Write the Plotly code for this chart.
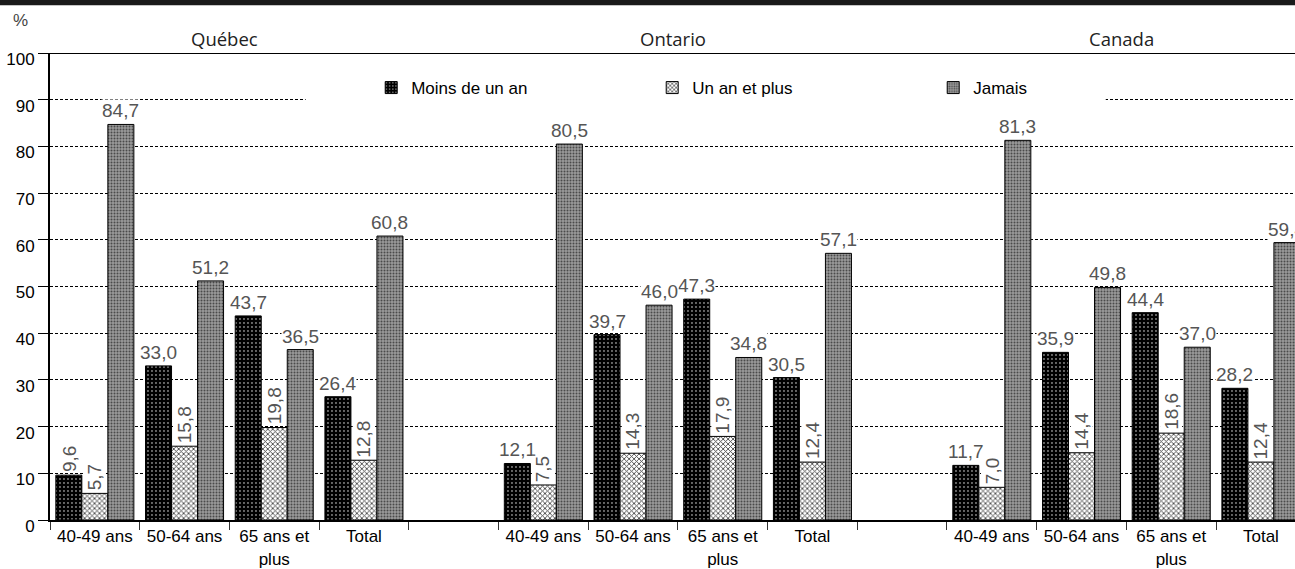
import plotly.graph_objects as go

# ---------------- data ----------------
regions = ["Québec", "Ontario", "Canada"]
age_groups = ["40-49 ans", "50-64 ans", "65 ans et<br>plus", "Total"]
series_names = ["Moins de un an", "Un an et plus", "Jamais"]
moins_de_un_an = [9.6, 33.0, 43.7, 26.4, 12.1, 39.7, 47.3, 30.5, 11.7, 35.9, 44.4, 28.2]
un_an_et_plus = [5.7, 15.8, 19.8, 12.8, 7.5, 14.3, 17.9, 12.4, 7.0, 14.4, 18.6, 12.4]
jamais = [84.7, 51.2, 36.5, 60.8, 80.5, 46.0, 34.8, 57.1, 81.3, 49.8, 37.0, 59.4]
y_ticks = list(range(0, 101, 10))
y_unit = "%"

series_values = [moins_de_un_an, un_an_et_plus, jamais]

# ---------------- categories (with empty slots between regions) ----------------
slots = []
for ri, r in enumerate(regions):
    if ri > 0:
        slots.append(f"gap{ri}")
    for a in age_groups:
        slots.append(f"{r}|{a}")
tick_text = ["" if s.startswith("gap") else s.split("|")[1] for s in slots]
x_data = [f"{r}|{a}" for r in regions for a in age_groups]

# ---------------- styles ----------------
TICK_FONT = dict(family="Liberation Sans, Arial, sans-serif", size=17, color="black")
LABEL_FONT = dict(family="Liberation Sans, Arial, sans-serif", size=19, color="#555555")
TITLE_FONT = dict(family="Open Sans, Noto Sans, sans-serif", size=18.5, color="#222222")
styles = [
    dict(shape=".", bg="black", fg="white", size=4, solidity=0.1),
    dict(shape="x", bg="white", fg="#444444", size=3.5, solidity=0.45),
    dict(shape=".", bg="#9a9a9a", fg="#4a4a4a", size=3, solidity=0.35),
]
BARGAP = 0.13

fig = go.Figure()
for name, vals, st in zip(series_names, series_values, styles):
    fig.add_trace(go.Bar(
        name=name, x=x_data, y=vals,
        marker=dict(
            color=st["bg"],
            line=dict(color="black", width=1),
            pattern=dict(shape=st["shape"], bgcolor=st["bg"], fgcolor=st["fg"],
                         size=st["size"], solidity=st["solidity"], fillmode="replace"),
        ),
        hoverinfo="x+y",
    ))

# ---------------- value labels ----------------
bw = (1 - BARGAP) / 3
annotations = []
for j, vals in enumerate(series_values):
    for xi, v in zip(x_data, vals):
        idx = slots.index(xi)
        rotated = (j == 1) or (j == 0 and v < 10)
        annotations.append(dict(
            x=idx + (j - 1) * bw, y=v, xref="x", yref="y",
            text=f"{v:.1f}".replace(".", ","), showarrow=False,
            font=LABEL_FONT, bgcolor="white", borderpad=0,
            textangle=-90 if rotated else 0,
            xanchor="center", yanchor="bottom", yshift=2,
        ))

# region titles
for ri, r in enumerate(regions):
    first = slots.index(f"{r}|{age_groups[0]}")
    annotations.append(dict(
        x=first + 1.45, y=1.032, xref="x", yref="paper", text=r,
        showarrow=False, font=TITLE_FONT, xanchor="center", yanchor="middle",
    ))
# unit
annotations.append(dict(
    x=-0.0233, y=1.070, xref="paper", yref="paper", text=y_unit, showarrow=False,
    font=dict(family="Liberation Sans, Arial, sans-serif", size=17, color="#444444"),
    xanchor="center", yanchor="middle",
))

shapes = [
    # dark band at top
    dict(type="rect", xref="paper", yref="paper", x0=-0.05, x1=1.01, y0=1.1023, y1=1.13,
         fillcolor="#1a1a1a", line=dict(width=0), layer="above"),
    # top solid frame line
    dict(type="line", xref="paper", yref="y", x0=0, x1=1, y0=100, y1=100,
         line=dict(color="black", width=2), layer="above"),
    # white box behind the legend (hides gridline)
    dict(type="rect", xref="x", yref="y", x0=2.35, x1=11.27, y0=82, y1=98.5,
         fillcolor="white", line=dict(width=0), layer="between"),
]

fig.update_layout(
    width=1295, height=569,
    margin=dict(l=50, r=0, t=53, b=47),
    paper_bgcolor="white", plot_bgcolor="white",
    barmode="group", bargap=BARGAP, bargroupgap=0,
    annotations=annotations, shapes=shapes,
    showlegend=True,
    legend=dict(
        orientation="h", x=0.258, y=0.925, xanchor="left", yanchor="middle",
        bgcolor="rgba(0,0,0,0)", font=TICK_FONT,
        entrywidth=236, entrywidthmode="pixels", traceorder="normal",
    ),
    xaxis=dict(
        type="category", categoryorder="array", categoryarray=slots,
        tickvals=slots, ticktext=tick_text, tickson="boundaries",
        ticks="outside", ticklen=8, tickcolor="#333333", tickwidth=1,
        showline=True, linecolor="black", linewidth=2,
        showgrid=False, range=[-0.5, 13.38], tickfont=TICK_FONT, fixedrange=True,
    ),
    yaxis=dict(
        range=[0, 100], tickvals=y_ticks, ticks="outside", ticklen=10,
        tickcolor="black", tickwidth=1,
        showline=True, linecolor="black", linewidth=2,
        showgrid=True, gridcolor="black", gridwidth=1, griddash="3px,2px",
        zeroline=False, tickfont=TICK_FONT, ticklabelshift=6, fixedrange=True,
    ),
)

fig.write_html(
    "out.html",
    config={"displayModeBar": False},
    post_script="document.body.style.margin='0';document.body.style.padding='0';",
)
